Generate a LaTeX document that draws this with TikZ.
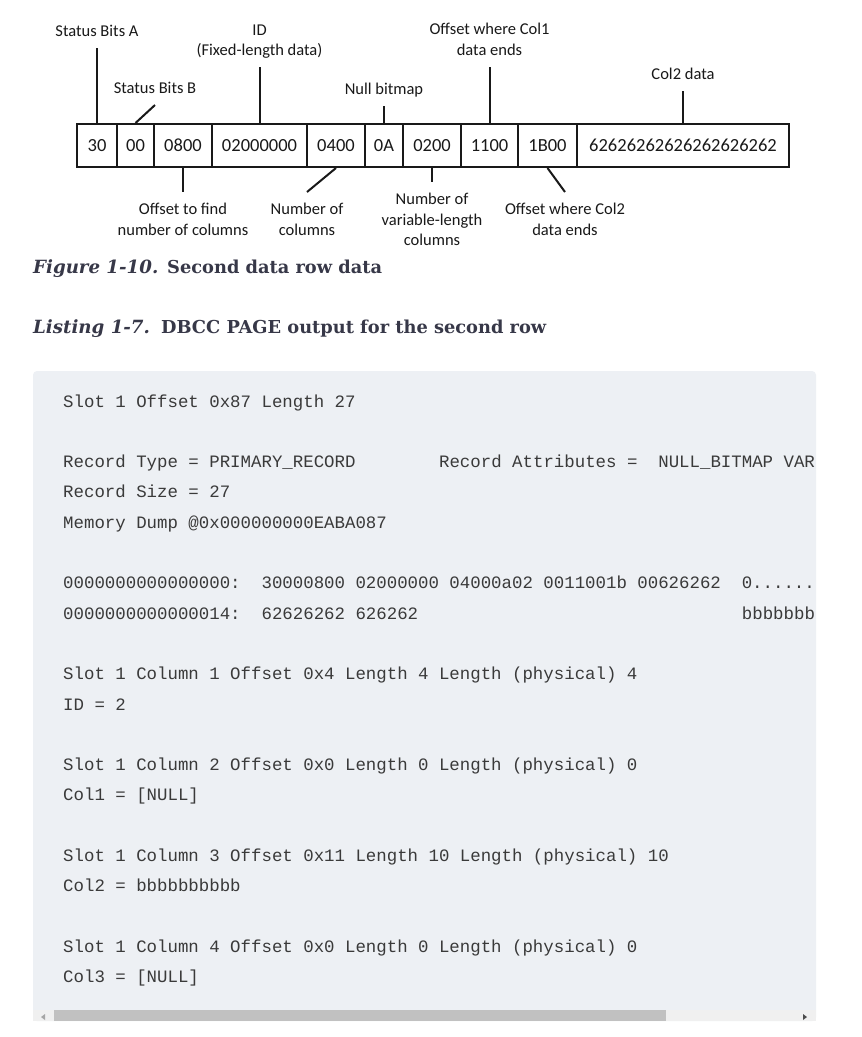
\documentclass[tikz,border=0pt]{standalone}
\usepackage{fontspec}
\setmainfont{DejaVu Serif}
\newfontfamily\diagfont{Carlito}
\newfontfamily\codefont{Liberation Mono}
\newfontfamily\capfont{DejaVu Serif}
\definecolor{codebg}{RGB}{237,240,244}
\definecolor{codetext}{RGB}{58,58,58}
\definecolor{captext}{RGB}{55,56,72}
\definecolor{sbtrack}{RGB}{240,240,240}
\definecolor{sbthumb}{RGB}{193,193,193}
\definecolor{diagink}{RGB}{25,25,25}
\newcommand\msp[1]{\hspace*{#1\fontcharwd\font`0}}
\frenchspacing
\begin{document}
\begin{tikzpicture}[x=1pt,y=-1pt,
  cell/.style={draw=diagink, line width=2pt, inner sep=0pt, minimum height=43pt,
    font=\diagfont\fontsize{18.5}{20}\selectfont, text=diagink},
  lbl/.style={inner xsep=0pt, font=\diagfont\fontsize{16.5}{20.5}\selectfont, align=center, text=diagink},
  lblup/.style={lbl, anchor=south, inner ysep=11.5pt},
  lbldn/.style={lbl, anchor=north, inner ysep=11pt},
  conn/.style={line width=2pt, draw=diagink},
  capnum/.style={anchor=base west, inner sep=0pt, font=\capfont\bfseries\itshape\fontsize{18.2}{20}\selectfont, text=captext},
  captitle/.style={anchor=base west, inner sep=0pt, font=\capfont\bfseries\fontsize{17.8}{20}\selectfont, text=captext},
  code/.style={anchor=base west, inner sep=0pt, font=\codefont\fontsize{17.4}{20}\selectfont, text=codetext}
]
\useasboundingbox (0,0) rectangle (862,1037);
\fill[white] (0,0) rectangle (862,1037);

% ---- row diagram ----
\node[cell, minimum width=40pt]  (c1)  at (97,145.5)  {30};
\node[cell, minimum width=37pt]  (c2)  at (135.5,145.5) {00};
\node[cell, minimum width=58pt]  (c3)  at (183,145.5) {0800};
\node[cell, minimum width=95pt]  (c4)  at (259.5,145.5) {02000000};
\node[cell, minimum width=58pt]  (c5)  at (336,145.5) {0400};
\node[cell, minimum width=38pt]  (c6)  at (384,145.5) {0A};
\node[cell, minimum width=58pt]  (c7)  at (432,145.5) {0200};
\node[cell, minimum width=57pt]  (c8)  at (489.5,145.5) {1100};
\node[cell, minimum width=59pt]  (c9)  at (547.5,145.5) {1B00};
\node[cell, minimum width=212pt] (c10) at (683,145.5) {62626262626262626262};

\node[lblup] (sba) at (97,48) {Status Bits A};
\node[lblup, inner ysep=8pt] (idl) at (259.5,67) {ID\\(Fixed-length data)};
\node[lblup] (sbb) at (155,105) {Status Bits B};
\node[lblup, inner ysep=9pt] (nbm) at (384,106) {Null bitmap};
\node[lblup] (oc1) at (489.5,67) {Offset where Col1\\data ends};
\node[lblup] (c2d) at (683,91) {Col2 data};

\draw[conn] (sba.south) -- (c1.north);
\draw[conn] (idl.south) -- (c4.north);
\draw[conn] (sbb.south) -- (c2.north);
\draw[conn] (nbm.south) -- (c6.north);
\draw[conn] (oc1.south) -- (c8.north);
\draw[conn] (c2d.south) -- (c10.north);

\node[lbldn] (ofs) at (183,192) {Offset to find\\number of columns};
\node[lbldn] (noc) at (307,192) {Number of\\columns};
\node[lbldn] (nvl) at (432,182) {Number of\\variable-length\\columns};
\node[lbldn] (oc2) at (565,192) {Offset where Col2\\data ends};

\draw[conn] (c3.south) -- (ofs.north);
\draw[conn] (c5.south) -- (noc.north);
\draw[conn] (c7.south) -- (nvl.north);
\draw[conn] (c9.south) -- (oc2.north);

% ---- captions ----
\node[capnum]   (fign) at (33,273)  {Figure 1-10.};
\node[captitle] (figt) at (167,273) {Second data row data};
\node[capnum]   (lstn) at (33,333)  {Listing 1-7.};
\node[captitle] (lstt) at (161,333) {DBCC PAGE output for the second row};

% ---- code box ----
\fill[codebg, rounded corners=4pt] (33,371) rectangle (816,1021);
\fill[sbtrack] (33,1010) rectangle (816,1021);
\fill[sbthumb] (54,1010) rectangle (666,1021);
\fill[black!35] (41,1017) -- (45,1014) -- (45,1020) -- cycle;
\fill[black!70] (807,1017) -- (803,1014) -- (803,1020) -- cycle;

\node[code] (l0)  at (63,407)   {Slot 1 Offset 0x87 Length 27};
\node[code] (l2)  at (63,467.6) {Record Type = PRIMARY\_RECORD\msp{8}Record Attributes =\msp{2}NULL\_BITMAP VAR};
\node[code] (l3)  at (63,497.9) {Record Size = 27};
\node[code] (l4)  at (63,528.2) {Memory Dump @0x000000000EABA087};
\node[code] (l6)  at (63,588.8) {0000000000000000:\msp{2}30000800 02000000 04000a02 0011001b 00626262\msp{2}0......};
\node[code] (l7)  at (63,619.1) {0000000000000014:\msp{2}62626262 626262\msp{31}bbbbbbb};
\node[code] (l9)  at (63,679.7) {Slot 1 Column 1 Offset 0x4 Length 4 Length (physical) 4};
\node[code] (l10) at (63,710)   {ID = 2};
\node[code] (l12) at (63,770.6) {Slot 1 Column 2 Offset 0x0 Length 0 Length (physical) 0};
\node[code] (l13) at (63,800.9) {Col1 = [NULL]};
\node[code] (l15) at (63,861.5) {Slot 1 Column 3 Offset 0x11 Length 10 Length (physical) 10};
\node[code] (l16) at (63,891.8) {Col2 = bbbbbbbbbb};
\node[code] (l18) at (63,952.4) {Slot 1 Column 4 Offset 0x0 Length 0 Length (physical) 0};
\node[code] (l19) at (63,982.7) {Col3 = [NULL]};
\end{tikzpicture}
\end{document}
